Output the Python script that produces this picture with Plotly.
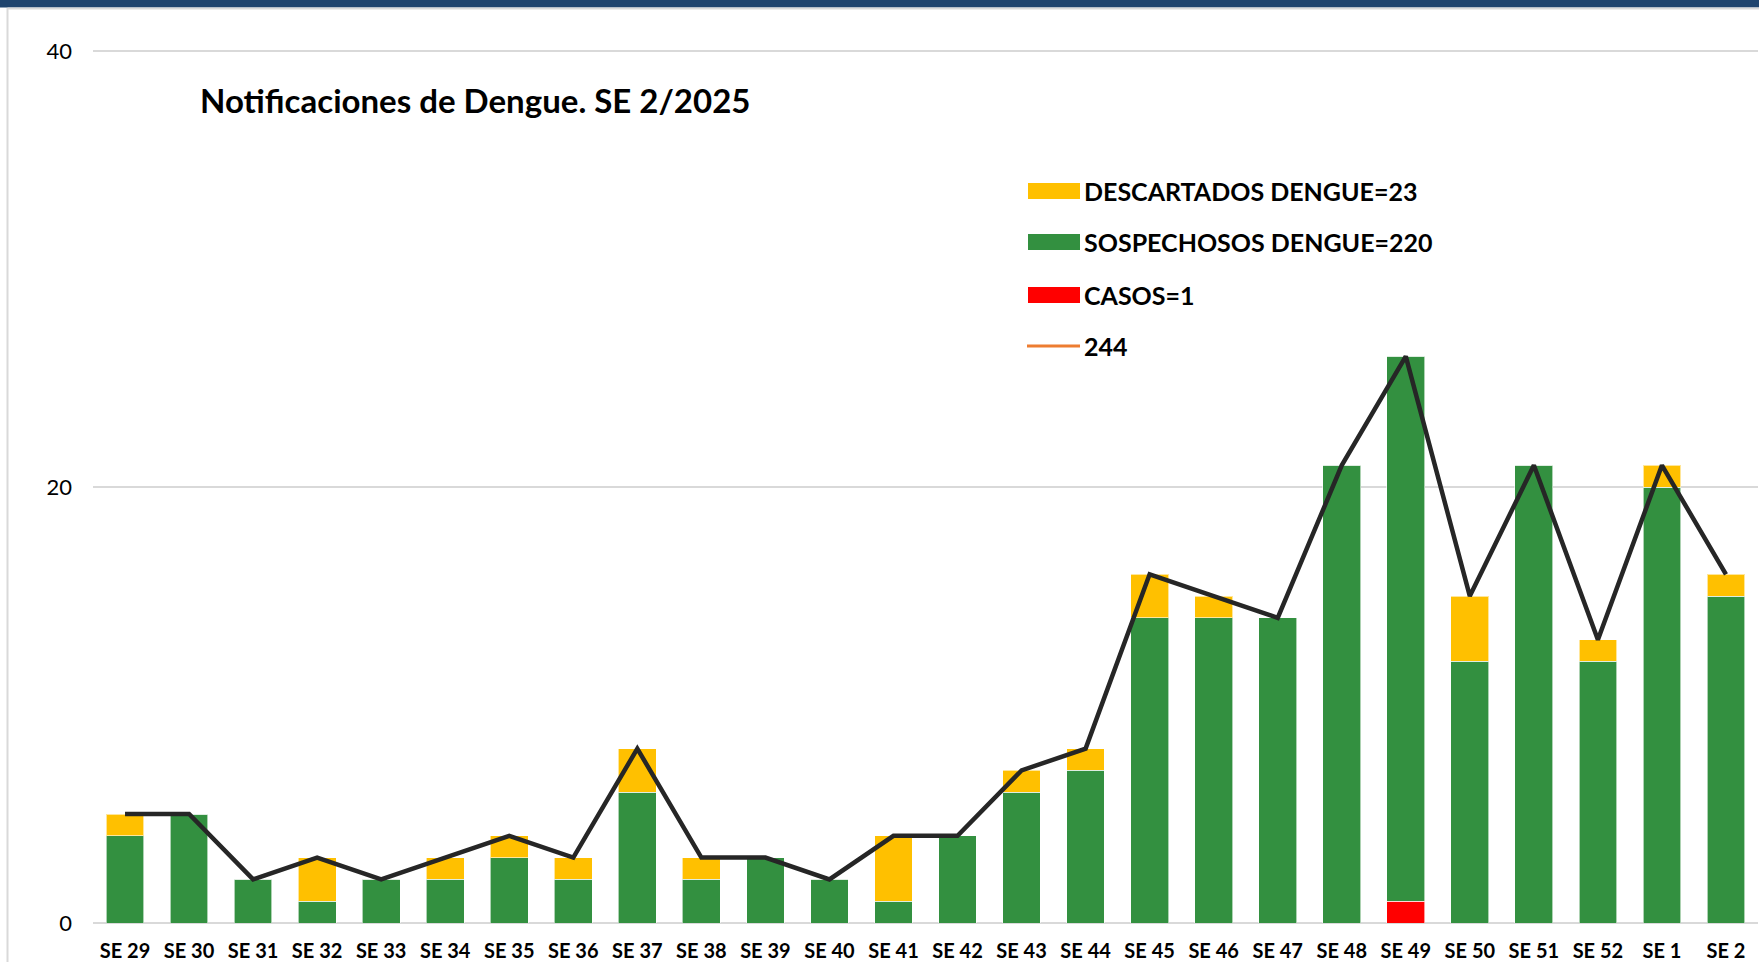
import plotly.graph_objects as go

# ---------------- data ----------------
weeks = ["SE 29", "SE 30", "SE 31", "SE 32", "SE 33", "SE 34", "SE 35", "SE 36",
         "SE 37", "SE 38", "SE 39", "SE 40", "SE 41", "SE 42", "SE 43", "SE 44",
         "SE 45", "SE 46", "SE 47", "SE 48", "SE 49", "SE 50", "SE 51", "SE 52",
         "SE 1", "SE 2"]
casos = [0, 0, 0, 0, 0, 0, 0, 0, 0, 0, 0, 0, 0, 0, 0, 0,
         0, 0, 0, 0, 1, 0, 0, 0, 0, 0]
sospechosos = [4, 5, 2, 1, 2, 2, 3, 2, 6, 2, 3, 2, 1, 4, 6, 7,
               14, 14, 14, 21, 25, 12, 21, 12, 20, 15]
descartados = [1, 0, 0, 2, 0, 1, 1, 1, 2, 1, 0, 0, 3, 0, 1, 1,
               2, 1, 0, 0, 0, 3, 0, 1, 1, 1]
totales = [c + s + d for c, s, d in zip(casos, sospechosos, descartados)]

title_text = "Notificaciones de Dengue. SE 2/2025"
y_ticks = [0, 20, 40]

# ---------------- styling ----------------
W, H = 1759, 962
ML, MR, MT, MB = 93, 1, 49, 39
PW, PH = W - ML - MR, H - MT - MB
FONT = "Lato"
YELLOW, GREEN, RED, LINE, ORANGE = "#FFC000", "#339040", "#FF0000", "#262626", "#ED7D31"


def px(x):
    return (x - ML) / PW


def py(y):
    return (H - MB - y) / PH


fig = go.Figure()
bar_line = dict(color="rgba(255,255,255,0.6)", width=1)
fig.add_trace(go.Bar(x=weeks, y=casos, name="CASOS", marker=dict(color=RED, line=bar_line)))
fig.add_trace(go.Bar(x=weeks, y=sospechosos, name="SOSPECHOSOS DENGUE",
                     marker=dict(color=GREEN, line=bar_line)))
fig.add_trace(go.Bar(x=weeks, y=descartados, name="DESCARTADOS DENGUE",
                     marker=dict(color=YELLOW, line=bar_line)))
fig.add_trace(go.Scatter(x=weeks, y=totales, mode="lines", name="TOTAL",
                         line=dict(color=LINE, width=4.5)))

# ---------------- manual legend ----------------
legend_items = [
    ("bar", YELLOW, f"DESCARTADOS DENGUE={sum(descartados)}"),
    ("bar", GREEN, f"SOSPECHOSOS DENGUE={sum(sospechosos)}"),
    ("bar", RED, f"CASOS={sum(casos)}"),
    ("line", ORANGE, f"{sum(totales)}"),
]
shapes = []
annotations = []
row_y = [191, 242, 295, 346]
for (kind, color, label), yy in zip(legend_items, row_y):
    if kind == "bar":
        shapes.append(dict(type="rect", xref="paper", yref="paper",
                           x0=px(1028), x1=px(1080), y0=py(yy + 8), y1=py(yy - 8),
                           fillcolor=color, line=dict(width=0)))
    else:
        shapes.append(dict(type="line", xref="paper", yref="paper",
                           x0=px(1027), x1=px(1080), y0=py(yy), y1=py(yy),
                           line=dict(color=color, width=3)))
    annotations.append(dict(text=label, xref="paper", yref="paper",
                            x=px(1082), y=py(yy), xanchor="left", yanchor="middle",
                            showarrow=False,
                            font=dict(family=FONT, size=25, color="#000", weight="bold")))

# frame decorations
shapes.append(dict(type="rect", xref="paper", yref="paper", layer="above",
                   x0=px(-5), x1=px(W + 5), y0=py(0), y1=py(7.5),
                   fillcolor="#1F446E", line=dict(width=0)))
shapes.append(dict(type="line", xref="paper", yref="paper",
                   x0=px(7.5), x1=px(7.5), y0=py(8), y1=py(H + 5),
                   line=dict(color="#D9D9D9", width=2)))
shapes.append(dict(type="line", xref="paper", yref="paper",
                   x0=px(7.5), x1=px(W + 5), y0=py(8.5), y1=py(8.5),
                   line=dict(color="#D9D9D9", width=2)))

fig.update_layout(
    width=W, height=H,
    margin=dict(l=ML, r=MR, t=MT, b=MB),
    barmode="stack", bargap=0.41,
    plot_bgcolor="white", paper_bgcolor="white",
    showlegend=False,
    title=dict(text=title_text, x=200 / W, xanchor="left", xref="container",
               y=1 - 101 / H, yanchor="middle", yref="container",
               font=dict(family=FONT, size=33, color="#000", weight="bold")),
    shapes=shapes, annotations=annotations,
    font=dict(family=FONT),
)
fig.update_xaxes(showgrid=False, showline=False, zeroline=False, ticks="",
                 automargin=False,
                 tickfont=dict(family=FONT, size=20, color="#000", weight="bold"),
                 ticklabelstandoff=14)
fig.update_yaxes(range=[0, 40.1], tickvals=y_ticks, showgrid=True,
                 automargin=False,
                 gridcolor="#D9D9D9", gridwidth=1.5,
                 zeroline=True, zerolinecolor="#D9D9D9", zerolinewidth=2,
                 showline=False, ticks="",
                 tickfont=dict(family=FONT, size=22, color="#000"),
                 ticklabelstandoff=20)

fig.write_html("out.html", config={"displayModeBar": False},
               post_script=["document.body.style.margin='0';"])
